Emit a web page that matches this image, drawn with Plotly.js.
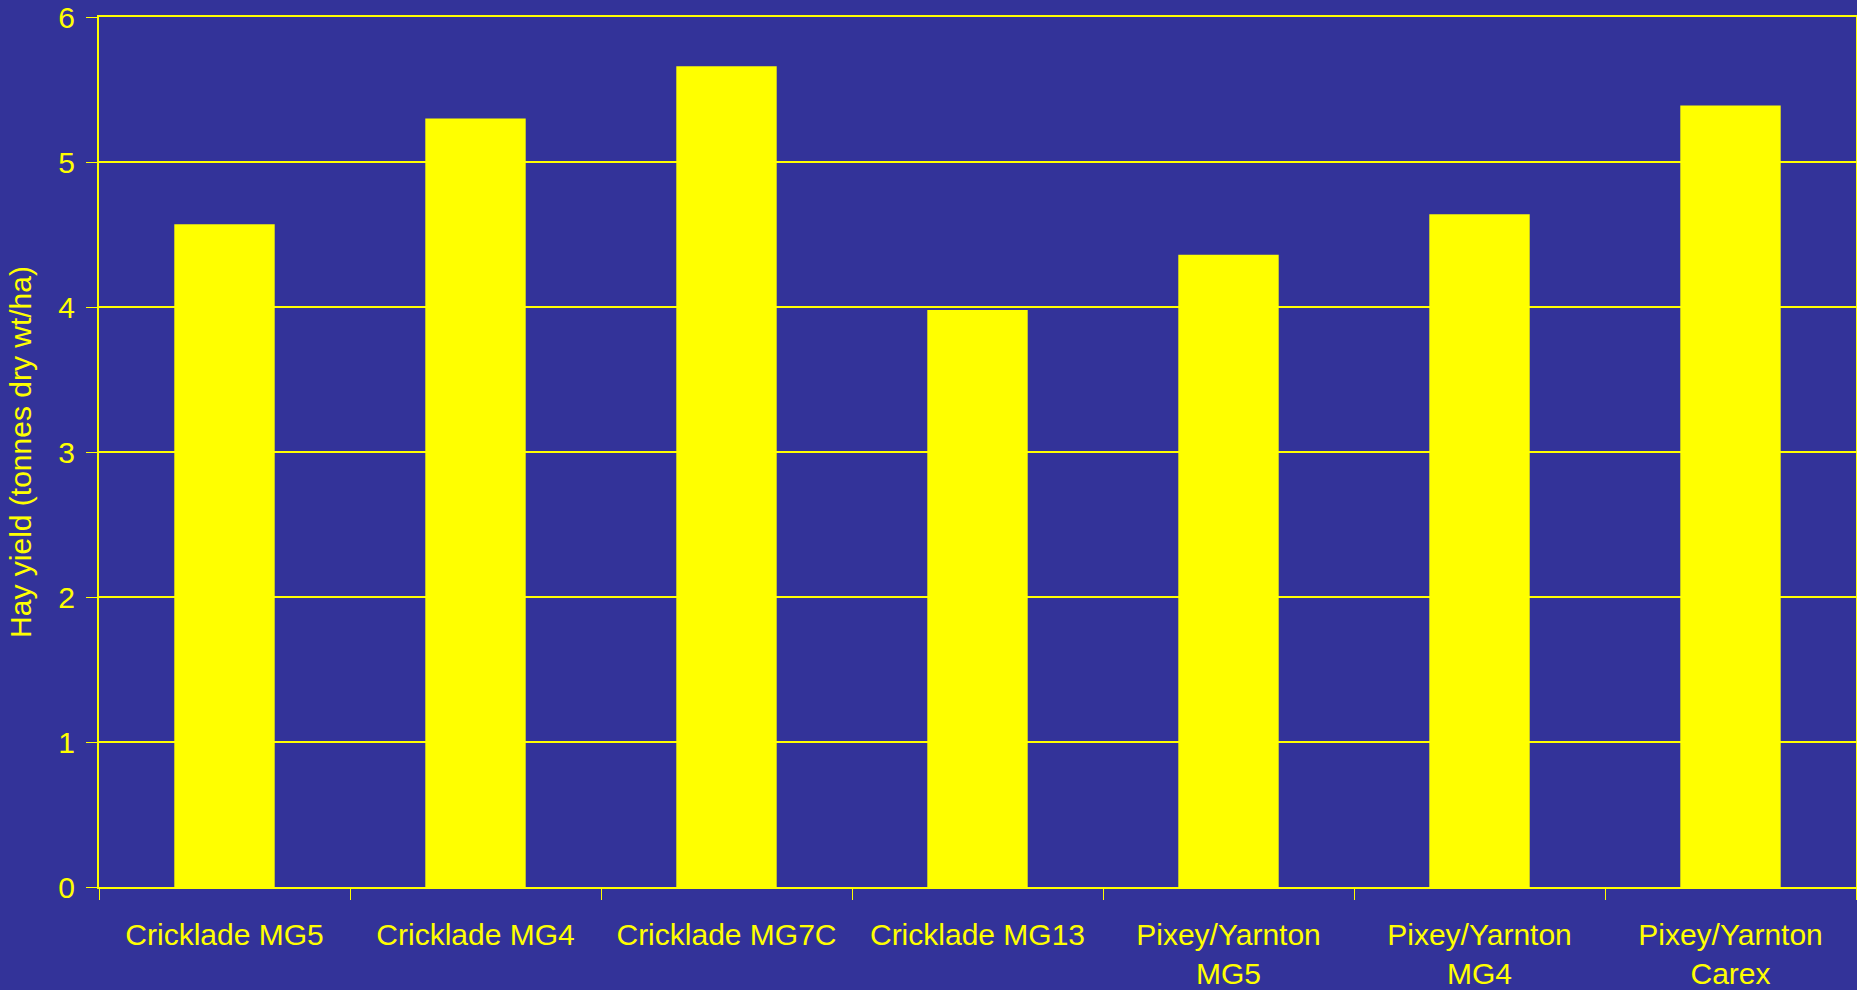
<!DOCTYPE html>
<html>
<head>
<meta charset="utf-8">
<script src="https://cdn.plot.ly/plotly-3.0.1.min.js"></script>
<style>
html, body { margin: 0; padding: 0; background: #333399; }
#chart { width: 1857px; height: 990px; }
</style>
</head>
<body>
<div id="chart"></div>
<script>
const categories = [
  "Cricklade MG5",
  "Cricklade MG4",
  "Cricklade MG7C",
  "Cricklade MG13",
  "Pixey/Yarnton<br>MG5",
  "Pixey/Yarnton<br>MG4",
  "Pixey/Yarnton<br>Carex"
];
const hayYield = [4.57, 5.30, 5.66, 3.98, 4.36, 4.64, 5.39];
const yTickValues = [0, 1, 2, 3, 4, 5, 6];

const YELLOW = "#FFFF00";
const BG = "#333399";
const FONT = "Liberation Sans, Arial, sans-serif";

const trace = {
  type: "bar",
  x: categories,
  y: hayYield,
  marker: { color: YELLOW, line: { width: 0 } },
  hoverinfo: "x+y"
};

const layout = {
  width: 1857,
  height: 990,
  paper_bgcolor: BG,
  plot_bgcolor: BG,
  margin: { l: 99, r: 1, t: 17, b: 103, pad: 0 },
  bargap: 0.6,
  showlegend: false,
  font: { family: FONT, color: YELLOW, size: 30 },
  xaxis: {
    type: "category",
    tickson: "boundaries",
    ticks: "outside",
    ticklen: 11,
    tickwidth: 1,
    tickcolor: YELLOW,
    showline: true,
    linecolor: YELLOW,
    linewidth: 2,
    mirror: true,
    showgrid: false,
    zeroline: false,
    ticklabelstandoff: 20,
    tickfont: { family: FONT, size: 30, color: YELLOW },
    automargin: false
  },
  yaxis: {
    range: [0, 6],
    tickvals: yTickValues,
    ticktext: yTickValues.map(String),
    ticks: "outside",
    ticklen: 11,
    tickwidth: 1,
    tickcolor: YELLOW,
    showline: true,
    linecolor: YELLOW,
    linewidth: 2,
    mirror: true,
    showgrid: true,
    gridcolor: YELLOW,
    gridwidth: 2,
    zeroline: false,
    ticklabelstandoff: 5,
    tickfont: { family: FONT, size: 30, color: YELLOW },
    title: { text: "Hay yield (tonnes dry wt/ha)", font: { family: FONT, size: 30, color: YELLOW }, standoff: 18 },
    automargin: false
  }
};

Plotly.newPlot("chart", [trace], layout, { displayModeBar: false, staticPlot: true });
</script>
</body>
</html>
